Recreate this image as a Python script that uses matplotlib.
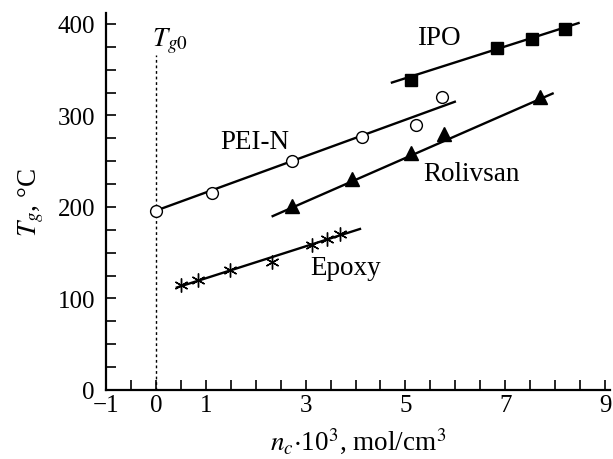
import matplotlib
matplotlib.use("Agg")
import matplotlib.pyplot as plt
from matplotlib.ticker import MultipleLocator, FixedLocator

plt.rcParams['font.family'] = ['Liberation Serif', 'DejaVu Serif']
plt.rcParams['mathtext.fontset'] = 'stix'

# Data
pei_x = [0.0, 1.12, 2.73, 4.13, 5.21, 5.74]
pei_y = [196, 215, 250, 276, 290, 320]
pei_fit_x = [0.0, 5.99]
pei_fit_y = [196, 315]

rol_x = [2.73, 3.93, 5.12, 5.78, 7.69]
rol_y = [201, 231, 259, 280, 320]
rol_fit_x = [2.34, 7.95]
rol_fit_y = [190, 324]

ipo_x = [5.12, 6.83, 7.53, 8.20]
ipo_y = [339, 374, 384, 394]
ipo_fit_x = [4.73, 8.47]
ipo_fit_y = [336, 401]

epo_x = [0.51, 0.84, 1.48, 2.33, 3.12, 3.42, 3.69]
epo_y = [115, 120, 131, 140, 159, 165, 170]
epo_fit_x = [0.42, 4.09]
epo_fit_y = [112, 176]

tg0_x = [0, 0]
tg0_y = [0, 366]

xtick_vals = [-1, 0, 1, 3, 5, 7, 9]
ytick_vals = [0, 100, 200, 300, 400]

fig = plt.figure(figsize=(6.13, 4.6), dpi=100)
ax = fig.add_axes([106/613, 69/460, 504/613, 377/460])

lw = 1.7
ax.plot(tg0_x, tg0_y, color='black', lw=1.0, ls=(0, (2, 2)))

ax.plot(pei_fit_x, pei_fit_y, color='black', lw=lw)
ax.plot(pei_x, pei_y, ls='none', marker='o', ms=8.5, mfc='white', mec='black', mew=1.0)

ax.plot(rol_fit_x, rol_fit_y, color='black', lw=lw)
ax.plot(rol_x, rol_y, ls='none', marker='^', ms=9.5, mfc='black', mec='black')

ax.plot(ipo_fit_x, ipo_fit_y, color='black', lw=lw)
ax.plot(ipo_x, ipo_y, ls='none', marker='s', ms=8.5, mfc='black', mec='black')

ax.plot(epo_fit_x, epo_fit_y, color='black', lw=lw)
ax.plot(epo_x, epo_y, ls='none', marker=(6, 2, 0), ms=10, mec='black', mew=1.0)

fs = 18
tfs = 19.5
ax.text(5.68, 385, 'IPO', fontsize=tfs, ha='center', va='center')
ax.text(1.98, 272, 'PEI-N', fontsize=tfs, ha='center', va='center')
ax.text(6.33, 237, 'Rolivsan', fontsize=tfs, ha='center', va='center')
ax.text(3.81, 134, 'Epoxy', fontsize=tfs, ha='center', va='center')
ax.text(-0.08, 382, r'$T_{g0}$', fontsize=tfs, ha='left', va='center')

ax.set_xlim(-1, 9.1)
ax.set_ylim(0, 412)
ax.xaxis.set_major_locator(FixedLocator(xtick_vals))
ax.xaxis.set_minor_locator(MultipleLocator(0.5))
ax.yaxis.set_major_locator(FixedLocator(ytick_vals))
ax.yaxis.set_minor_locator(MultipleLocator(25))
ax.set_xticklabels(['\u22121', '0', '1', '3', '5', '7', '9'])

for s in ['top', 'right']:
    ax.spines[s].set_visible(False)
for s in ['left', 'bottom']:
    ax.spines[s].set_linewidth(1.6)

ax.tick_params(axis='both', which='both', direction='in', width=1.2, labelsize=fs)
ax.tick_params(axis='both', which='major', length=7)
ax.tick_params(axis='both', which='minor', length=7)
ax.tick_params(axis='y', pad=8)
ax.tick_params(axis='x', pad=3)

ax.set_ylabel(r'$T_g$, °C', fontsize=tfs, labelpad=8)
ax.set_xlabel(r'$n_c$$\cdot$10$^3$, mol/cm$^3$', fontsize=tfs, labelpad=7)

fig.savefig('out.png', dpi=100)
